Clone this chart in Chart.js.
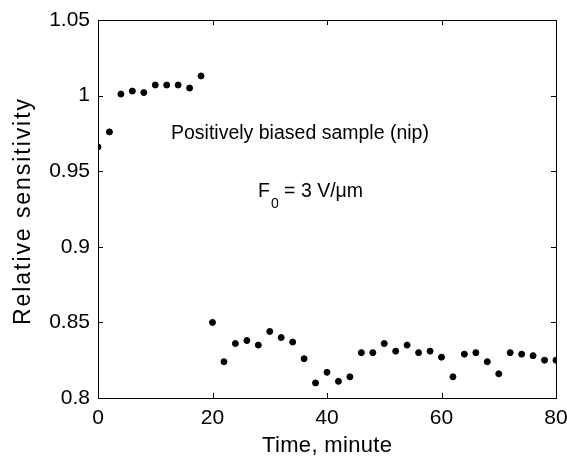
<!DOCTYPE html>
<html>
<head>
<meta charset="utf-8">
<script src="https://cdn.jsdelivr.net/npm/chart.js@4"></script>
<style>
  html, body { margin: 0; padding: 0; background: #fff; }
  #wrap { width: 567px; height: 457px; }
</style>
</head>
<body>
<div id="wrap"><canvas id="grafiek" width="567" height="457"></canvas></div>
<script>
// tijd in minuten en relatieve gevoeligheid
const tijd = [0, 2, 4, 6, 8, 10, 12, 14, 16, 18,
  20, 22, 24, 26, 28, 30, 32, 34, 36, 38, 40, 42, 44, 46, 48, 50,
  52, 54, 56, 58, 60, 62, 64, 66, 68, 70, 72, 74, 76, 78, 80];
const gevoeligheid = [0.966, 0.976, 1.001, 1.003, 1.002, 1.007, 1.007, 1.007, 1.005, 1.013,
  0.850, 0.824, 0.836, 0.838, 0.835, 0.844, 0.840, 0.837, 0.826, 0.810, 0.817, 0.811, 0.814, 0.830, 0.830, 0.836,
  0.831, 0.835, 0.830, 0.831, 0.827, 0.814, 0.829, 0.830, 0.824, 0.816, 0.830, 0.829, 0.828, 0.825, 0.825];

const xTicks = [0, 20, 40, 60, 80];
const yTicks = [0.8, 0.85, 0.9, 0.95, 1, 1.05];
const yTickLabels = ['0.8', '0.85', '0.9', '0.95', '1', '1.05'];
const xTitel = 'Time, minute';
const yTitel = 'Relative sensitivity';

const FONT = 'Arial, "Liberation Sans", sans-serif';

// tekst met wat extra letterafstand zodat hij een bepaalde breedte krijgt
function tekstOpBreedte(ctx, tekst, breedte) {
  ctx.letterSpacing = '0px';
  const w0 = ctx.measureText(tekst).width;
  const extra = Math.max(0, (breedte - w0) / (tekst.length - 1));
  ctx.letterSpacing = extra + 'px';
  ctx.fillText(tekst, -(w0 + extra * (tekst.length - 1)) / 2, 0);
  ctx.letterSpacing = '0px';
}

// kader, tikjes naar binnen en de tekst in de grafiek
const kaderPlugin = {
  id: 'kader',
  afterDraw(chart) {
    const ctx = chart.ctx;
    const a = chart.chartArea;
    const xs = chart.scales.x, ys = chart.scales.y;
    ctx.save();
    ctx.strokeStyle = '#000';
    ctx.lineWidth = 1;
    ctx.strokeRect(Math.round(a.left) + 0.5, Math.round(a.top) + 0.5,
      Math.round(a.right - a.left), Math.round(a.bottom - a.top));
    ctx.beginPath();
    xTicks.forEach(v => {
      const px = Math.round(xs.getPixelForValue(v)) + 0.5;
      ctx.moveTo(px, a.bottom); ctx.lineTo(px, a.bottom - 5);
      ctx.moveTo(px, a.top); ctx.lineTo(px, a.top + 5);
    });
    yTicks.forEach(v => {
      const py = Math.round(ys.getPixelForValue(v)) + 0.5;
      ctx.moveTo(a.left, py); ctx.lineTo(a.left + 5, py);
      ctx.moveTo(a.right, py); ctx.lineTo(a.right - 5, py);
    });
    ctx.stroke();

    ctx.fillStyle = '#000';
    ctx.textBaseline = 'alphabetic';
    ctx.textAlign = 'left';
    ctx.font = '19.5px ' + FONT;
    ctx.fillText('Positively biased sample (nip)', 171, 139);

    let x = 258;
    const y = 197;
    ctx.font = '19.5px ' + FONT;
    ctx.fillText('F', x, y);
    x += ctx.measureText('F').width + 1;
    ctx.font = '14px ' + FONT;
    ctx.fillText('0', x, y + 11);
    x += ctx.measureText('0').width;
    ctx.font = '19.5px ' + FONT;
    ctx.fillText(' = 3 V/\u03bcm', x, y);

    // astitels
    ctx.font = '22px ' + FONT;
    ctx.save();
    ctx.translate((a.left + a.right) / 2, 452);
    tekstOpBreedte(ctx, xTitel, 130);
    ctx.restore();

    ctx.font = '23px ' + FONT;
    ctx.save();
    ctx.translate(30, 212);
    ctx.rotate(-Math.PI / 2);
    tekstOpBreedte(ctx, yTitel, 226);
    ctx.restore();
    ctx.restore();
  }
};

new Chart(document.getElementById('grafiek').getContext('2d'), {
  type: 'scatter',
  data: {
    datasets: [{
      data: tijd.map((t, i) => ({ x: t, y: gevoeligheid[i] })),
      backgroundColor: '#000',
      borderColor: '#000',
      pointRadius: 3,
      pointHoverRadius: 3
    }]
  },
  options: {
    responsive: false,
    animation: false,
    layout: { padding: { left: 0, right: 11, top: 20, bottom: 0 } },
    plugins: { legend: { display: false }, tooltip: { enabled: false } },
    scales: {
      x: {
        type: 'linear',
        min: 0, max: 80,
        afterBuildTicks: s => { s.ticks = xTicks.map(v => ({ value: v })); },
        afterFit: s => { s.height = 59; s.paddingLeft = 0; s.paddingRight = 0; },
        grid: { display: false, drawTicks: false },
        border: { display: false },
        ticks: { color: '#000', padding: 8, maxRotation: 0, font: { family: FONT, size: 21 } },
        title: { display: false }
      },
      y: {
        min: 0.8, max: 1.05,
        afterBuildTicks: s => { s.ticks = yTicks.map(v => ({ value: v })); },
        afterFit: s => { s.width = 98; s.paddingTop = 0; s.paddingBottom = 0; },
        grid: { display: false, drawTicks: false },
        border: { display: false },
        ticks: {
          color: '#000', padding: 8, font: { family: FONT, size: 21 },
          callback: v => yTickLabels[yTicks.findIndex(t => Math.abs(t - v) < 1e-9)]
        },
        title: { display: false }
      }
    }
  },
  plugins: [kaderPlugin]
});
</script>
</body>
</html>
